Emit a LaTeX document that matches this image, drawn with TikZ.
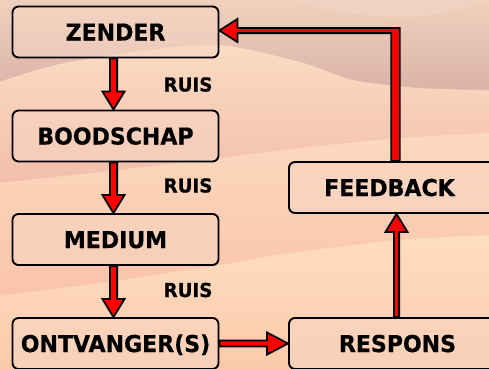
\documentclass[tikz,border=0pt]{standalone}
\usepackage{fontspec}
\setmainfont{DejaVu Sans}[BoldFeatures={FakeStretch=0.95,FakeBold=0.6}]
\usetikzlibrary{calc}

% palette
\definecolor{skytop}{HTML}{F0D1BD}
\definecolor{skybottom}{HTML}{D8B0A6}
\definecolor{capfill}{HTML}{EFD3C0}
\definecolor{duneAtop}{HTML}{FCDCC3}
\definecolor{duneAbot}{HTML}{F0BAA8}
\definecolor{duneBtop}{HTML}{FCD9BF}
\definecolor{duneBbot}{HTML}{F9C3A8}
\definecolor{duneCtop}{HTML}{FEDDC0}
\definecolor{duneCbot}{HTML}{FCCAAB}
\definecolor{boxfill}{HTML}{F8D6C4}
\definecolor{arrowred}{HTML}{FF0000}

\tikzset{
  stage/.style={draw=black, line width=1.9pt, rounded corners=6pt,
    fill=boxfill, fill opacity=0.5, text opacity=1,
    minimum width=206pt, minimum height=51pt, inner sep=0pt,
    font=\fontsize{23.2}{23.2}\selectfont\bfseries, text height=17pt, text depth=0pt},
  widestage/.style={stage, minimum width=217pt},
  noise/.style={font=\fontsize{19.2}{19.2}\selectfont\bfseries, inner sep=0pt,
    text height=14pt, text depth=0pt},
  arrowbody/.style={draw=black, fill=arrowred, line width=1.8pt, line join=miter},
}

% block arrow: start, end, shaft half-width, head half-width, head length
\newcommand\blockarrow[5]{%
  \coordinate (ba-s) at (#1);
  \coordinate (ba-e) at (#2);
  \coordinate (ba-h) at ($(ba-e)!#5!(ba-s)$);
  \draw[arrowbody] ($(ba-s)!#3!90:(ba-e)$) -- ($(ba-h)!#3!90:(ba-e)$)
    -- ($(ba-h)!#4!90:(ba-e)$) -- (ba-e) -- ($(ba-h)!#4!-90:(ba-e)$)
    -- ($(ba-h)!#3!-90:(ba-e)$) -- ($(ba-s)!#3!-90:(ba-e)$) -- cycle;
}

\begin{document}
\begin{tikzpicture}[x=1pt, y=-1pt]
  \useasboundingbox (0,0) rectangle (489,368);
  \clip (0,0) rectangle (489,368);

  % desert backdrop
  \fill[top color=skytop, bottom color=skybottom] (-1,-1) rectangle (490,100);
  \fill[capfill] (290,-1) .. controls (330,14) and (390,20) .. (430,15)
    .. controls (455,11) and (475,5) .. (490,-1) -- cycle;
  \shade[top color=duneAtop, bottom color=duneAbot]
    plot[smooth] coordinates {(-1,82) (60,64) (150,50) (220,45) (300,62) (353,80) (420,88) (490,90)}
    -- (490,205) -- (-1,205) -- cycle;
  \shade[top color=duneBtop, bottom color=duneBbot]
    plot[smooth] coordinates {(-1,183) (100,172) (220,158) (300,148) (400,138) (490,133)}
    -- (490,305) -- (-1,305) -- cycle;
  \shade[top color=duneCtop, bottom color=duneCbot]
    plot[smooth] coordinates {(-1,296) (100,283) (220,265) (290,253) (400,240) (490,235)}
    -- (490,369) -- (-1,369) -- cycle;

  % stages
  \node[stage] (zender)    at (115.5,32)    {ZENDER};
  \node[stage] (boodschap) at (115.5,136)   {BOODSCHAP};
  \node[stage] (medium)    at (115.5,239.5) {MEDIUM};
  \node[stage] (ontvanger) at (115.5,343.5) {ONTVANGER(S)};
  \node[widestage] (feedback) at (397.5,187.5) {\hspace*{-16pt}FEEDBACK};
  \node[widestage] (respons)  at (397.5,343.5) {RESPONS};

  % noise labels
  \node[noise] (ruis1) at (188,84.5)  {RUIS};
  \node[noise] (ruis2) at (188,185.5) {RUIS};
  \node[noise] (ruis3) at (188,290)   {RUIS};

  % flow arrows
  \blockarrow{[xshift=-2pt]zender.south}{[xshift=-2pt]boodschap.north}{3.6pt}{11pt}{18pt}
  \blockarrow{[xshift=-2pt]boodschap.south}{[xshift=-2pt]medium.north}{3.6pt}{11pt}{18pt}
  \blockarrow{[xshift=-2pt]medium.south}{[xshift=-2pt]ontvanger.north}{3.6pt}{11pt}{18pt}
  \blockarrow{ontvanger.east}{respons.west}{3pt}{11pt}{21pt}
  \blockarrow{[xshift=-1pt]respons.north}{[xshift=-1pt]feedback.south}{2.6pt}{11pt}{18pt}

  % feedback loop back to the sender
  \draw[arrowbody] let \p1=([xshift=-2pt]feedback.north), \p2=([yshift=1.5pt]zender.east) in
    ({\x1-4.2pt},\y1) -- ({\x1-4.2pt},{\y2-2.6pt}) -- ({\x2+18pt},{\y2-2.6pt})
    -- ({\x2+18pt},{\y2-11.5pt}) -- (\p2) -- ({\x2+18pt},{\y2+11.5pt})
    -- ({\x2+18pt},{\y2+2.6pt}) -- ({\x1+4.2pt},{\y2+2.6pt}) -- ({\x1+4.2pt},\y1) -- cycle;
\end{tikzpicture}
\end{document}
